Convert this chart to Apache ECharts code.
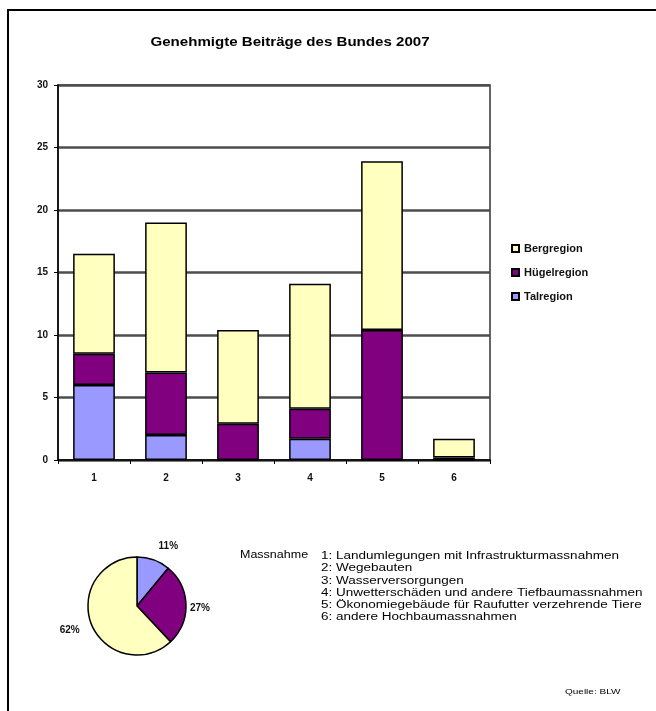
<!DOCTYPE html>
<html>
<head>
<meta charset="utf-8">
<script src="https://cdn.jsdelivr.net/npm/echarts@6/dist/echarts.min.js"></script>
<style>
html,body{margin:0;padding:0;background:#fff;}
#chart{width:656px;height:711px;}
</style>
</head>
<body>
<div id="chart"></div>
<script>
const titleText = 'Genehmigte Beiträge des Bundes 2007';
const categories = ['1', '2', '3', '4', '5', '6'];
const talValues = [6.0, 2.0, 0, 1.7, 0, 0];
const huegelValues = [2.5, 5.0, 2.9, 2.4, 10.4, 0.2];
const bergValues = [8.0, 12.0, 7.5, 10.0, 13.5, 1.5];
const legendOrder = ['Bergregion', 'Hügelregion', 'Talregion'];
const pieNames = ['Talregion', 'Hügelregion', 'Bergregion'];
const pieShares = [11, 27, 62];
const massnahmeLabel = 'Massnahme';
const massnahmen = [
  '1: Landumlegungen mit Infrastrukturmassnahmen',
  '2: Wegebauten',
  '3: Wasserversorgungen',
  '4: Unwetterschäden und andere Tiefbaumassnahmen',
  '5: Ökonomiegebäude für Raufutter verzehrende Tiere',
  '6: andere Hochbaumassnahmen'
];
const sourceText = 'Quelle: BLW';

const colors = { Talregion: '#9999FF', 'Hügelregion': '#800080', Bergregion: '#FFFFC0' };
const FONT = 'Liberation Sans, Arial, sans-serif';
const pieLabelShift = [[-1, -11], [-4, 4], [-4, 5]];

const chart = echarts.init(document.getElementById('chart'));

const barSeries = [
  ['Talregion', talValues],
  ['Hügelregion', huegelValues],
  ['Bergregion', bergValues]
].map(([name, data]) => ({
  name: name,
  type: 'bar',
  stack: 'total',
  barWidth: '58%',
  data: data,
  itemStyle: { color: colors[name], borderColor: '#000', borderWidth: 1.5 },
  emphasis: { disabled: true }
}));

chart.setOption({
  backgroundColor: '#fff',
  animation: false,
  textStyle: { fontFamily: FONT },
  legend: {
    data: legendOrder,
    orient: 'vertical',
    left: 506,
    top: 238,
    icon: 'rect',
    itemWidth: 7,
    itemHeight: 7,
    itemGap: 13,
    textStyle: { fontSize: 11, fontWeight: 'bold', color: '#111', fontFamily: FONT },
    selectedMode: false
  },
  grid: {
    left: 58, right: 166, top: 85, bottom: 251,
    show: true, borderColor: '#333', borderWidth: 1.5, backgroundColor: '#fff'
  },
  xAxis: {
    type: 'category',
    data: categories,
    boundaryGap: true,
    axisLine: { lineStyle: { color: '#000', width: 1.5 } },
    axisTick: { show: true, interval: 0, length: 4, lineStyle: { color: '#000' } },
    axisLabel: { fontSize: 10, fontWeight: 'bold', color: '#111', margin: 13 }
  },
  yAxis: {
    type: 'value',
    min: 0, max: 30, interval: 5,
    axisLine: { show: true, lineStyle: { color: '#000', width: 1.5 } },
    axisTick: { show: true, length: 4, lineStyle: { color: '#000' } },
    axisLabel: { fontSize: 10, fontWeight: 'bold', color: '#111', margin: 10 },
    splitLine: { lineStyle: { color: '#4d4d4d', width: 2.5 } }
  },
  series: barSeries.concat([{
    type: 'pie',
    center: [137, 606],
    radius: 49,
    startAngle: 90,
    clockwise: true,
    data: pieNames.map((n, i) => ({ name: n, value: pieShares[i], itemStyle: { color: colors[n] } })),
    itemStyle: { borderColor: '#000', borderWidth: 1.5 },
    label: { show: true, position: 'outside', formatter: '{c}%', fontSize: 10, fontWeight: 'bold', color: '#111' },
    labelLine: { show: false, length: 3, length2: 0 },
    labelLayout: function (p) { const s = pieLabelShift[p.dataIndex] || [0, 0]; return { dx: s[0], dy: s[1] }; },
    emphasis: { disabled: true },
    legendHoverLink: false
  }]),
  graphic: [
    { type: 'rect', shape: { x: 8, y: 10, width: 760, height: 800 }, style: { fill: 'none', stroke: '#000', lineWidth: 2 }, silent: true },
    { type: 'text', x: 290, y: 42, style: { text: titleText, font: 'bold 13px ' + FONT, fill: '#000', textAlign: 'center', textVerticalAlign: 'middle' }, scaleX: 1.16 },
    { type: 'text', x: 240, y: 550, style: { text: massnahmeLabel, font: '10px ' + FONT, fill: '#000', textVerticalAlign: 'top' }, scaleX: 1.25 },
    { type: 'text', x: 321, y: 550, style: { text: massnahmen.join('\n'), font: '10px ' + FONT, lineHeight: 12.3, fill: '#000', textVerticalAlign: 'top' }, scaleX: 1.35 },
    { type: 'text', x: 565, y: 692, style: { text: sourceText, font: '8px ' + FONT, fill: '#000', textVerticalAlign: 'middle' }, scaleX: 1.25 }
  ]
});
</script>
</body>
</html>
